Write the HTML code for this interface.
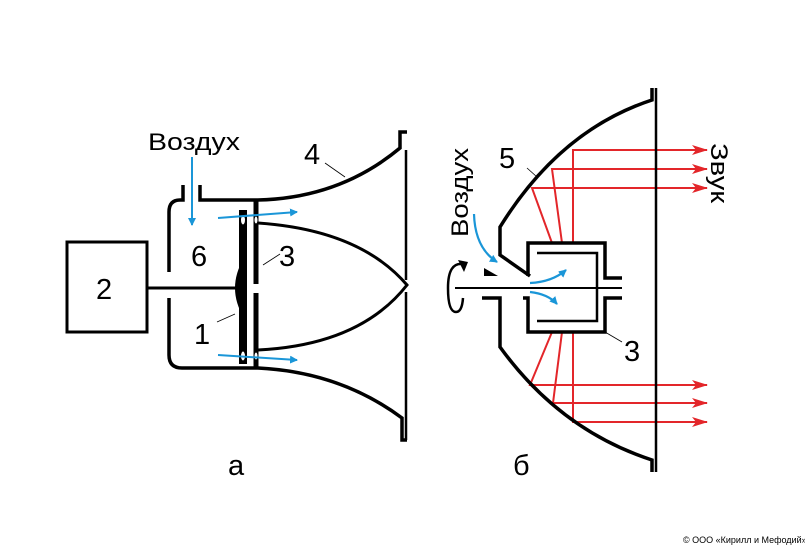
<!DOCTYPE html>
<html><head><meta charset="utf-8"><style>
html,body{margin:0;padding:0;background:#fff;}
svg{display:block;}
text{font-family:"Liberation Sans",sans-serif;fill:#000;}
</style></head><body>
<svg width="805" height="550" viewBox="0 0 805 550" xmlns="http://www.w3.org/2000/svg">
<defs>
<marker id="rb" markerWidth="8" markerHeight="8" refX="7" refY="4" orient="auto" markerUnits="userSpaceOnUse" viewBox="0 0 8 8"><path d="M0,0 L8,4 L0,8 Z" fill="#1a96d8"/></marker>
<marker id="rr" markerWidth="16" markerHeight="10" refX="15" refY="5" orient="auto" markerUnits="userSpaceOnUse"><path d="M0,0 L16,5 L0,10 L4,5 Z" fill="#e3262a"/></marker>
</defs>
<g fill="none" stroke="#000" stroke-width="3.5">
<rect x="67" y="242" width="80" height="90" stroke-width="3"/>
<line x1="147" y1="288" x2="240" y2="288" stroke-width="3"/>
<path d="M183,185 V200 H180 Q169,200 169,212 V272"/>
<path d="M169,298 V355 Q169,368 182,368 H258 Q340,372 402,418 V440 H407"/>
<path d="M200,185 V200 H258 Q340,198 400,148 V132 H407"/>
<line x1="406" y1="150" x2="406" y2="280" stroke-width="2.5"/>
<line x1="406" y1="292" x2="406" y2="440" stroke-width="2.5"/>
<path d="M258,223 Q360,230 407,285 Q360,345 258,350" stroke-width="3"/>
<line x1="256" y1="200" x2="256" y2="284" stroke-width="5"/>
<line x1="256" y1="293" x2="256" y2="368" stroke-width="5"/>
<line x1="243" y1="210" x2="243" y2="364" stroke-width="8"/>
</g>
<path d="M244,258 Q226,288 244,318 Z" fill="#000"/>
<g fill="#fff" stroke="#000" stroke-width="1">
<ellipse cx="243" cy="220" rx="2.5" ry="5"/><ellipse cx="243" cy="356" rx="2.5" ry="5"/>
<ellipse cx="256" cy="220" rx="2" ry="4"/><ellipse cx="256" cy="356" rx="2" ry="4"/>
</g>
<g stroke="#1a96d8" stroke-width="2" fill="none" marker-end="url(#rb)">
<line x1="192" y1="157" x2="192" y2="225"/>
<line x1="218" y1="218" x2="297" y2="212"/>
<line x1="218" y1="355" x2="297" y2="360"/>
</g>
<g stroke="#000" stroke-width="0.8">
<line x1="325" y1="163" x2="345" y2="177"/>
<line x1="263" y1="265" x2="280" y2="254"/>
<line x1="217" y1="322" x2="235" y2="314"/>
</g>
<text x="148" y="150" font-size="24" textLength="92" lengthAdjust="spacingAndGlyphs">Воздух</text>
<text x="304" y="164" font-size="29">4</text>
<text x="191" y="266" font-size="29">6</text>
<text x="279" y="266" font-size="29">3</text>
<text x="194" y="344" font-size="29">1</text>
<text x="96" y="299" font-size="29">2</text>
<text x="228" y="475" font-size="29">а</text>

<g stroke="#e3262a" stroke-width="2" fill="none">
<path d="M573,243 V150 H707" marker-end="url(#rr)"/>
<path d="M562,243 L552,169 H707" marker-end="url(#rr)"/>
<path d="M552,243 L532,188 H707" marker-end="url(#rr)"/>
<path d="M552,332 L530,385 H707" marker-end="url(#rr)"/>
<path d="M562,332 L553,403 H707" marker-end="url(#rr)"/>
<path d="M573,332 V422 H707" marker-end="url(#rr)"/>
</g>
<g fill="none" stroke="#000" stroke-width="3.5">
<path d="M652,88 V100 Q560,130 500,227 V255 L530,276"/>
<path d="M482,298 H500 V347 Q560,430 652,460 V472"/>
<line x1="656" y1="88" x2="656" y2="472" stroke-width="2.5"/>
<path d="M528,276 V243 H605 V278 H622"/>
<path d="M523,298 H528 V332 H605 V298 H622"/>
<path d="M537,253 H597 V321 H537" stroke-width="2.5"/>
</g>
<line x1="455" y1="288" x2="622" y2="288" stroke="#000" stroke-width="2"/>
<path d="M484,268 L498,276 L484,276 Z" fill="#000"/>
<path d="M463,264 Q448,262 448,288 Q448,312 456,312 Q462,312 463,298" fill="none" stroke="#000" stroke-width="2.5"/>
<path d="M458,260 L468,262 L464,272 Z" fill="#000"/>
<g stroke="#1a96d8" stroke-width="2.2" fill="none" marker-end="url(#rb)">
<path d="M474,214 Q475,248 497,262"/>
<path d="M530,283 Q552,282 566,270"/>
<path d="M530,292 Q548,294 557,304"/>
</g>
<g stroke="#000" stroke-width="0.8">
<line x1="527" y1="168" x2="537" y2="177"/>
<line x1="605" y1="332" x2="622" y2="342"/>
</g>
<text x="499" y="168" font-size="29">5</text>
<text x="624" y="361" font-size="29">3</text>
<text x="513" y="475" font-size="29">б</text>
<text transform="translate(468,237) rotate(-90)" font-size="24" textLength="89" lengthAdjust="spacingAndGlyphs">Воздух</text>
<text transform="translate(711,143) rotate(90)" font-size="24" textLength="60" lengthAdjust="spacingAndGlyphs">Звук</text>
<text x="683" y="543" font-size="9">© ООО «Кирилл и Мефодий»</text>
</svg>
</body></html>
